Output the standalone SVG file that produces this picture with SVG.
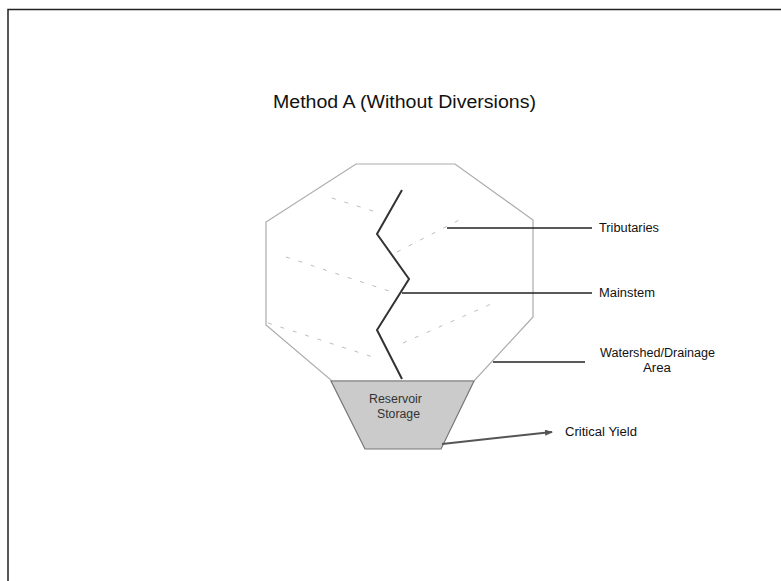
<svg xmlns="http://www.w3.org/2000/svg" width="781" height="581" viewBox="0 0 781 581">
<style>
text{font-family:"Liberation Sans",Arial,sans-serif;fill:#111}
.lbl{font-size:12px}
.trib{fill:none;stroke:#bdbdbd;stroke-width:1;stroke-dasharray:4 9}
.lead{fill:none;stroke:#222;stroke-width:1.3}
</style>
<defs>
<marker id="ah" markerWidth="8" markerHeight="6" refX="7" refY="3" orient="auto" markerUnits="userSpaceOnUse">
<path d="M0,0 L8,3 L0,6 Z" fill="#555"/>
</marker>
</defs>
<rect width="781" height="581" fill="#fff"/>
<path d="M8,581 L8,9.5 L781,9.5" fill="none" stroke="#222" stroke-width="1.5"/>
<text x="273" y="108" style="font-size:17.5px" textLength="263" lengthAdjust="spacingAndGlyphs">Method A (Without Diversions)</text>
<g id="watershed">
<polygon points="356,164 455,164 533,220 533,317 474,381 332,381 266,325 266,222" fill="none" stroke="#ababab" stroke-width="1.2"/>
</g>
<g id="tributaries">
<path class="trib" d="M332,198 L376,212"/>
<path class="trib" d="M397,252 L465,217"/>
<path class="trib" d="M286,257 L395,293"/>
<path class="trib" d="M403,343 L498,301"/>
<path class="trib" d="M268,323 L376,358"/>
</g>
<g id="mainstem">
<polyline points="402,190 377,234 409,279 377,330 402,379" fill="none" stroke="#333" stroke-width="2"/>
</g>
<g id="reservoir">
<polygon points="331,381 474,381 441,449 365,449" fill="#cbcbcb" stroke="#777" stroke-width="1.2"/>
<text class="lbl" x="369" y="403" textLength="53" lengthAdjust="spacingAndGlyphs" style="fill:#333">Reservoir</text>
<text class="lbl" x="377" y="418" textLength="43" lengthAdjust="spacingAndGlyphs" style="fill:#333">Storage</text>
</g>
<g id="connectors">
<line class="lead" x1="447" y1="228" x2="592" y2="228"/>
<line class="lead" x1="402" y1="293" x2="592" y2="293"/>
<line class="lead" x1="493" y1="362" x2="585" y2="362"/>
<line x1="442" y1="444" x2="552" y2="432" stroke="#555" stroke-width="2" marker-end="url(#ah)"/>
</g>
<g id="labels">
<text class="lbl" x="599" y="232" textLength="60" lengthAdjust="spacingAndGlyphs">Tributaries</text>
<text class="lbl" x="599" y="297" textLength="56" lengthAdjust="spacingAndGlyphs">Mainstem</text>
<text class="lbl" x="600" y="357" textLength="115" lengthAdjust="spacingAndGlyphs">Watershed/Drainage</text>
<text class="lbl" x="643" y="372" textLength="28" lengthAdjust="spacingAndGlyphs">Area</text>
<text class="lbl" x="565" y="436" textLength="72" lengthAdjust="spacingAndGlyphs">Critical Yield</text>
</g>
</svg>
